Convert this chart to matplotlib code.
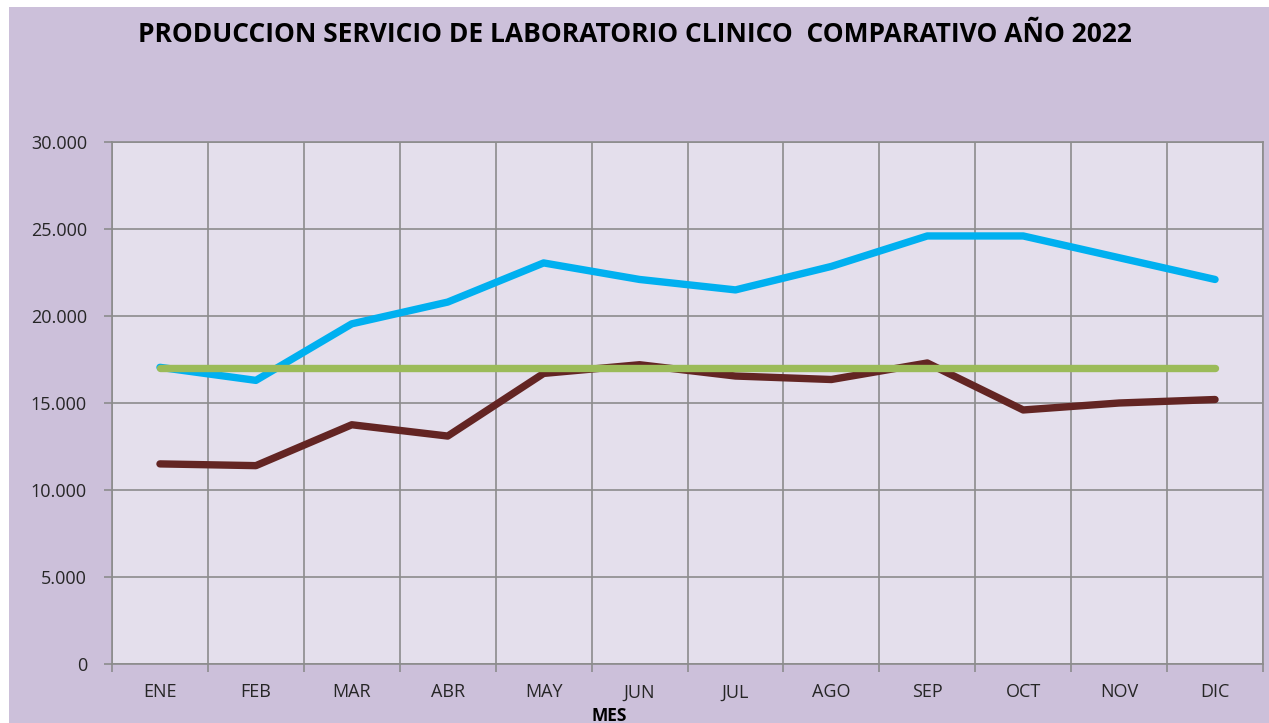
import matplotlib
import matplotlib.pyplot as plt
from matplotlib.patches import Rectangle
from matplotlib.ticker import FuncFormatter, MultipleLocator
import numpy as np

font = {'family': 'Open Sans', 'size': 13}
matplotlib.rc('font', **font)

meses = ['ENE', 'FEB', 'MAR', 'ABR', 'MAY', 'JUN', 'JUL', 'AGO', 'SEP', 'OCT', 'NOV', 'DIC']
produccion_2022 = [17050, 16300, 19550, 20800, 23050, 22100, 21500, 22850, 24600, 24600, 23350, 22100]
produccion_2021 = [11500, 11400, 13750, 13100, 16700, 17200, 16550, 16350, 17300, 14600, 15000, 15200]
meta = [17000] * 12

fig = plt.figure(figsize=(12.69, 7.23), dpi=100, facecolor='white')
fig.patches.append(Rectangle((9 / 1269, 0), 1, 1 - 7 / 723, transform=fig.transFigure,
                             facecolor='#ccc0da', edgecolor='none', zorder=-10))

ax = fig.add_axes([112 / 1269, 1 - 664 / 723, 1151 / 1269, 522 / 723])
ax.set_facecolor('#e4dfec')

x = np.arange(len(meses))
ax.plot(x, produccion_2022, color='#00b0f0', linewidth=5.3, solid_capstyle='round', solid_joinstyle='round', zorder=3)
ax.plot(x, produccion_2021, color='#632523', linewidth=5.3, solid_capstyle='round', solid_joinstyle='round', zorder=3)
ax.plot(x, meta, color='#9bbb59', linewidth=5.3, solid_capstyle='round', zorder=4)

ax.set_xlim(-0.5, 11.5)
ax.set_ylim(0, 30000)
ax.yaxis.set_major_locator(MultipleLocator(5000))
ax.yaxis.set_major_formatter(FuncFormatter(lambda v, p: f'{int(v):,}'.replace(',', '.')))
ax.set_xticks(x)
ax.set_xticklabels(meses)
ax.set_xticks(np.arange(-0.5, 12, 1), minor=True)

ax.grid(True, axis='y', which='major', color='#8c8c8c', linewidth=1.2)
ax.grid(True, axis='x', which='minor', color='#8c8c8c', linewidth=1.2)
ax.set_axisbelow(True)

ax.tick_params(axis='x', which='major', length=0, pad=14, colors='#262626')
ax.tick_params(axis='x', which='minor', length=6, color='#8c8c8c', width=1.2)
ax.tick_params(axis='y', length=6, color='#8c8c8c', width=1.2, colors='#262626', pad=12)
for s in ax.spines.values():
    s.set_color('#8c8c8c')
    s.set_linewidth(1.2)

fig.text(635 / 1269, 1 - 34 / 723, 'PRODUCCION SERVICIO DE LABORATORIO CLINICO  COMPARATIVO AÑO 2022',
         ha='center', va='center', fontsize=19, fontweight='bold')
fig.text(609 / 1269, 1 - 716 / 723, 'MES', ha='center', va='center', fontsize=12.5, fontweight='bold')

plt.savefig('out.png', dpi=100, facecolor=fig.get_facecolor())
